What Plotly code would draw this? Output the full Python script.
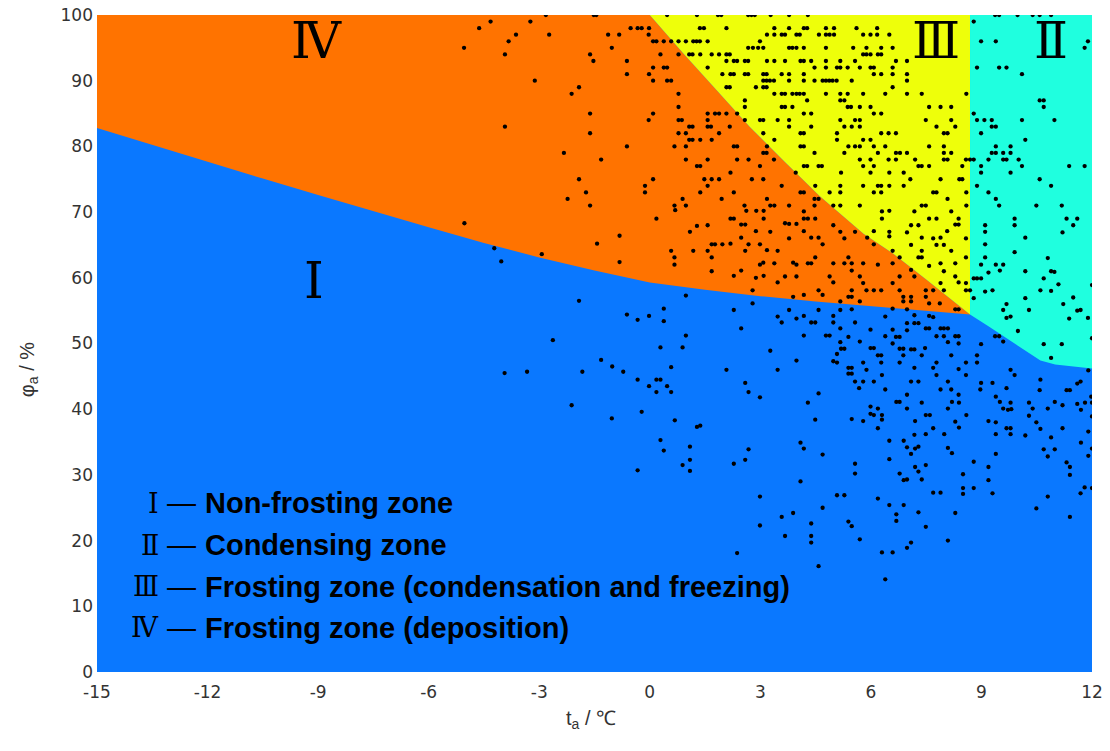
import plotly.graph_objects as go

# ---------------- zone boundaries (t_a in degC, phi_a in %) ----------------
b14_x = [-15, -13.5, -12, -10.5, -9, -7.5, -6, -4.5, -3, -1.5, 0, 1.5, 3, 4.5, 6, 7.5, 8.69]   # zone I / IV
b14_y = [82.8, 80.2, 77.7, 75.1, 72.6, 70.1, 67.7, 65.3, 63.1, 61.1, 59.3, 58.2, 57.2, 56.4, 55.7, 55.0, 54.4]
b34_x = [0, 0.9, 1.81, 2.71, 3.62, 4.6, 5.8, 6.6, 7.51, 8.69]   # zone III / IV
b34_y = [100, 94.2, 88.6, 83.0, 77.9, 72.5, 66.7, 63.7, 59.7, 54.4]
b12_x = [8.69, 9.2, 9.7, 10.2, 10.6, 11.0, 11.5, 12]             # zone I / II
b12_y = [54.4, 52.6, 50.7, 48.8, 47.4, 46.8, 46.5, 46.2]
x_split = 8.69                                                   # zone II / III

x_ticks = [-15, -12, -9, -6, -3, 0, 3, 6, 9, 12]
x_ticktext = ["-15", "-12", "-9", "-6", "-3", "0", "3", "6", "9", "12"]
y_ticks = [0, 10, 20, 30, 40, 50, 60, 70, 80, 90, 100]

# ---------------- observed points ----------------
pts_upper_left = [(-4.32,99),(-4.63,98),(-3.24,99),(-2.82,100),(-1.52,100),(-1.45,100),(-3.63,97),(-3.83,96),
    (-2.73,97),(-5.04,95),(-3.93,94),(-1.13,97),(-0.83,97),(-0.52,98),(-0.33,98),(-0.22,98),(-0.02,98),(-0.03,97),
    (-1.03,95),(-1.62,94),(-1.53,93),(-0.62,93),(-0.02,91),(-0.62,91),(-3.12,90),(-1.92,89),(-2.12,88),(-1.62,85),
    (-0.03,84),(-3.93,83),(-1.62,82),(-0.62,80),(-2.33,79),(-1.32,78),(-1.92,75),(-0.13,74),(-0.13,73),(-1.73,73),
    (-2.23,72),(-1.62,71)]

rows_upper_mid = {
    100: [0.47,1.28,1.85,1.94,2.67,2.76,2.85,3.28,3.78,4.29],
    98: [1.36,1.47,2.08,3.38,3.78,4.18,4.27,4.78,5.0,5.61],
    97: [3.18,3.38,3.58,3.67,3.98,4.07,4.59,4.78,4.88,5.0],
    96: [0.09,0.18,0.38,0.58,0.78,0.98,1.18,1.27,1.36,1.57,2.99],
    95: [2.67,2.8,2.94,3.08,3.78,3.87,3.98,4.18,4.78,5.52],
    94: [0.29,0.78,1.07,1.16,1.37,1.68,1.88,2.08,2.17],
    93: [2.08,2.28,2.37,2.58,2.67,3.18,3.38,3.67,4.09,4.18,4.38,4.78,5.17,5.57],
    92: [0.09,0.38,0.47,1.57,4.47,4.78,5.08,5.17,5.37],
    91: [1.97,2.19,2.28,2.58,2.67,3.08,3.17,3.58,3.78,4.18],
    90: [0.09,0.47,0.58,3.08,3.17,3.26,3.37,3.78,4.18,4.47,4.69,4.78,4.87,4.96,5.07,5.48],
    89: [2.08,2.17,2.88,3.08,3.17],
    88: [0.78,3.38,3.58,3.67,3.87,3.98,4.07,4.18,4.78,5.17,5.37],
    87: [2.58,4.27,5.17,5.28],
    86: [0.78,2.58,3.58,3.67,3.87,5.37,5.46],
    85: [0.09,1.57,1.77,1.88,2.08,2.37,4.18,4.38],
    84: [0.78,0.87,1.57,2.58,2.99,3.08,3.47,3.78,5.17,5.57],
    83: [1.07,1.16,1.57,1.66,2.17,3.78,4.38,5.28,5.48],
    82: [0.78,0.98,1.88,3.08,4.09,4.18,5.08],
    81: [1.07,1.16,1.37,1.68,3.38,5.08],
    80: [0.67,0.98,2.28,2.37,3.18,4.09,4.18,5.39,5.57],
    79: [3.08,3.17,4.47,5.28],
    78: [0.98,1.57,2.37,2.68,3.37],
    77: [1.28,1.37,2.99,4.18,4.27,4.58,4.67],
    76: [2.19,3.96,5.19],
    75: [0.09,1.48,1.68,1.88,2.77,3.08],
    74: [1.57,3.58,4.49,5.17],
    73: [1.37,2.28,4.09,4.18,4.88,5.17],
    72: [0.89,1.95,3.18,4.47,4.58],
    71: [0.67,0.98,2.57,3.27,3.38,3.78,4.47,4.98,5.17],
}

pts_upper_right = [(9.37,100),(9.48,100),(9.98,100),(10.39,100),(10.58,100),(10.89,100),(8.79,99),
    (6.17,98),(5.79,97),(5.99,97),(6.17,97),(6.50,97),(5.88,95),(6.28,95),(6.59,95),(5.79,94),(5.88,94),(5.99,94),
    (6.19,94),(6.28,94),(6.68,93),(6.98,93),(5.70,92),(5.99,92),(6.08,92),(6.59,92),(6.08,91),(6.28,91),(6.59,91),
    (6.98,91),(6.98,90),(6.59,89),(5.79,88),(6.39,88),(6.98,88),(7.38,88),(8.59,88),(5.70,86),(5.99,86),(7.58,86),
    (7.89,86),(8.18,86),(6.08,85),(6.28,85),(5.70,84),(7.49,84),(8.18,84),(5.70,83),(7.78,83),(8.29,83),(6.28,82),
    (6.48,82),(6.68,82),(7.98,82),(8.08,82),(5.79,81),(5.99,81),(5.70,80),(6.08,80),(6.39,80),(7.58,80),(7.98,80),
    (6.19,79),(6.68,79),(6.79,79),(6.98,79),(7.98,79),(8.18,79),(5.70,78),(5.99,78),(6.48,78),(6.68,78),(7.20,78),
    (7.98,78),(8.08,78),(8.58,78),(5.79,77),(6.08,77),(7.29,77),(7.38,77),(7.58,77),(8.48,77),(5.99,76),(6.50,76),
    (6.89,76),(7.07,75),(7.89,75),(8.40,75),(8.48,75),(6.19,74),(6.28,74),(6.50,74),(5.79,74),(6.89,74),(6.08,73),
    (6.28,73),(7.69,73),(7.78,73),(8.59,73),(8.08,72),(5.70,71),(7.38,71),(7.49,71),(8.59,71),
    (8.99,96),(9.39,96),(11.89,96),(11.80,95),(8.88,92),(9.48,92),(9.68,92),(10.10,91),(10.58,87),(10.69,87),
    (10.69,86),(8.79,85),(8.88,84),(9.08,84),(9.28,84),(10.10,84),(10.98,84),(9.28,83),(9.39,83),(8.99,82),
    (10.19,81),(9.39,80),(9.79,80),(9.28,79),(9.39,79),(9.59,79),(9.79,79),(8.69,78),(8.79,78),(9.19,78),(9.59,78),
    (9.68,78),(10.01,78),(8.99,77),(10.10,77),(11.38,77),(11.80,77),(8.99,76),(9.79,76),(10.58,75),(8.88,74),
    (10.89,74),(9.19,73),(9.39,72),(9.48,71),(10.49,71),(11.18,71)]

pts_mid_left = [(-5.03,68.3),(-0.82,66.4),(-1.43,65.2),(-2.93,63.6),(-0.82,62.4),(-4.22,64.5),(-4.03,62.5),
    (-1.92,56.5),(-0.62,54.4),(-0.33,53.6),(-0.02,54.2),(-2.63,50.5),(-1.32,47.5),(-1.02,46.5),(-0.72,45.7),
    (-3.94,45.5),(-3.33,45.7),(-1.83,45.7),(-0.33,44.5),(-0.02,43.5)]

pts_mid_center = [(0.18,69.0),(0.69,70.3),(2.62,70.2),(2.89,70.2),(3.09,70.2),(4.18,70.1),(2.19,69.0),(2.28,69.0),
    (3.09,69.0),(4.18,69.0),(4.29,69.0),(4.49,69.0),(1.57,68.0),(1.28,67.9),(2.48,68.1),(2.59,68.1),(3.67,68.3),
    (3.78,68.2),(3.98,68.2),(4.98,68.0),(1.09,67.0),(2.88,67.1),(3.27,67.0),(4.18,67.1),(5.17,67.0),(5.57,67.0),
    (2.48,66.1),(3.78,66.0),(4.38,66.1),(4.58,66.1),(5.28,66.0),(5.90,66.1),(1.68,65.1),(1.77,65.1),(1.97,65.1),
    (2.19,65.2),(2.68,65.1),(2.99,65.1),(4.69,65.1),(0.58,64.1),(1.18,64.1),(1.57,64.1),(2.59,64.1),(3.18,64.2),
    (3.47,64.1),(0.67,63.1),(1.68,63.1),(4.49,63.1),(5.39,63.1),(2.99,62.0),(3.08,62.3),(3.38,62.2),(3.89,62.3),
    (3.98,62.0),(4.29,62.2),(4.38,62.2),(4.98,62.2),(5.28,62.2),(5.48,62.2),(0.67,62.0),(1.68,61.0),(2.48,61.1),
    (5.48,61.1),(2.28,60.3),(2.88,60.0),(3.09,60.3),(3.67,60.2),(3.98,60.2),(4.88,60.2),(3.47,59.3),(4.98,59.3),
    (2.79,58.1),(4.58,58.1),(5.48,58.1),(4.18,57.4),(4.69,57.4),(3.89,57.1),(5.39,57.1),(5.48,57.1),(0.98,57.3),
    (5.17,56.4),(2.79,56.1),(0.38,55.3),(2.28,55.1),(3.78,55.1),(4.58,55.1),(5.17,55.1),(5.48,55.2),(3.47,54.1),
    (3.98,53.8),(4.18,54.2),(4.98,54.2),(0.38,53.4),(3.58,53.2),(4.38,53.2),(4.49,53.2),(4.98,53.2),(5.57,53.2),
    (2.48,52.3),(5.17,52.3),(0.98,51.2),(4.18,51.2),(4.78,51.2),(4.88,51.2),(5.39,51.0),(5.17,50.2),(0.29,49.4),
    (0.89,49.4),(5.19,49.2),(5.28,49.2),(3.27,48.9),(5.08,48.4),(3.98,47.4),(4.98,47.3),(5.08,47.1),(5.39,46.3),
    (5.48,46.3),(0.58,46.4),(2.08,46.0),(3.47,46.0),(5.39,45.4),(5.48,45.4),(0.18,44.5),(0.29,44.5),(5.57,44.2),
    (2.59,44.0),(0.47,43.5),(0.18,42.6),(0.58,42.6),(2.68,42.6),(5.68,43.2),(4.58,42.4),(2.99,41.8)]

pts_mid_right = [(6.30,70.1),(6.50,70.2),(7.18,70.1),(8.18,70.1),(6.30,69.0),(7.58,69.0),(7.78,69.0),(8.38,69.0),
    (7.09,68.0),(7.29,68.0),(8.29,68.1),(8.38,68.1),(6.08,67.1),(6.50,67.0),(6.50,66.3),(6.98,66.9),(8.07,67.1),
    (7.38,66.1),(7.69,66.0),(7.89,66.1),(8.58,66.0),(7.09,65.0),(7.78,65.0),(7.98,65.0),(6.59,64.1),(7.38,64.1),
    (8.18,64.1),(6.78,63.1),(7.29,63.1),(7.38,63.1),(8.58,63.1),(7.89,62.2),(7.58,61.8),(8.29,62.2),(7.09,61.2),
    (7.98,61.0),(8.29,60.2),(7.89,59.2),(8.38,59.3),(8.58,59.2),(8.58,58.1),(8.69,58.1),(7.98,58.1),(7.69,58.1),
    (7.87,56.1),(6.08,65.1),(5.79,62.2),(6.19,62.0),(6.59,62.2),(6.78,60.2),(7.18,60.2),(5.70,60.2),(5.79,59.2),
    (6.59,59.2),(5.88,58.1),(6.08,58.1),(6.28,58.1),(6.78,58.1),(7.49,58.1),(6.88,57.1),(7.09,57.1),(6.88,56.4),
    (7.09,56.4),(7.49,57.1),(7.58,56.1),(5.70,56.4),(6.98,55.2),(8.29,55.2),(8.38,55.2),(6.59,55.3),
    (9.10,68.0),(9.90,69.0),(9.90,68.0),(11.31,69.0),(11.60,69.0),(11.49,68.0),(11.20,66.9),(9.10,67.0),
    (10.19,66.1),(9.10,65.1),(9.90,63.9),(9.10,63.1),(10.80,63.0),(8.99,62.0),(9.39,62.0),(9.59,62.0),(9.50,61.1),
    (9.19,60.8),(10.19,61.0),(10.89,61.0),(10.98,60.9),(8.79,59.9),(8.88,59.9),(8.99,59.9),(10.69,59.9),
    (11.09,59.0),(12.0,58.9),(9.10,57.9),(9.30,58.1),(10.60,58.1),(10.89,58.0),(8.79,56.9),(10.19,56.9),
    (11.49,57.0),(9.68,56.0),(11.22,56.0),(9.59,55.1),(10.29,55.1),(11.60,55.0),(11.69,55.1),(9.68,53.9),
    (9.79,54.1),(11.38,53.8),(11.89,53.9),(9.99,51.9),(12.0,50.8),(10.69,49.9),(11.18,49.9),(10.89,47.8),
    (6.39,54.1),(7.18,54.3),(7.58,54.2),(7.69,54.0),(6.98,53.1),(7.18,53.1),(7.29,53.1),(7.49,52.3),(7.58,52.3),
    (7.89,52.3),(7.98,52.3),(8.09,52.3),(6.59,52.1),(6.98,52.0),(7.78,51.1),(7.98,51.1),(8.29,51.1),(8.38,51.1),
    (6.39,51.1),(6.68,51.0),(6.78,51.0),(5.99,52.1),(5.70,50.3),(5.99,49.3),(6.08,49.3),(6.59,50.0),(6.78,49.2),
    (6.88,49.2),(7.09,49.1),(7.18,49.1),(7.47,49.3),(8.09,50.2),(8.38,50.0),(8.99,49.9),(9.37,51.1),(9.48,51.1),
    (9.59,50.3),(6.28,48.2),(6.19,48.2),(6.88,48.2),(7.38,48.2),(8.18,48.2),(8.88,48.2),(5.79,47.1),(6.28,47.1),
    (6.78,47.1),(7.78,47.1),(8.58,47.1),(8.88,47.1),(7.18,46.3),(7.69,46.3),(8.38,46.1),(5.88,46.0),(9.79,46.0),
    (6.30,45.2),(7.78,45.2),(8.58,45.2),(9.90,45.2),(5.79,44.2),(6.08,44.2),(7.09,44.2),(7.29,44.2),(8.09,44.2),
    (8.99,44.0),(9.30,44.0),(10.60,44.5),(11.60,43.9),(11.69,44.2),(11.90,45.9),(6.39,43.0),(7.89,43.0),
    (8.18,43.0),(8.97,43.0),(9.68,43.2),(10.58,42.9),(11.31,42.9),(11.40,42.9),(6.98,42.2),(8.38,42.2),
    (9.39,41.9),(11.98,41.9)]

pts_low_left = [(-2.12,40.6),(-1.03,38.6),(-0.22,39.6),(-0.33,30.7)]

pts_low_center = [(4.29,41.0),(0.68,38.3),(1.28,37.3),(1.37,37.5),(4.49,38.4),(5.48,38.5),(0.29,35.3),(0.38,33.7),
    (1.09,34.3),(4.09,34.9),(4.18,34.0),(4.69,33.1),(2.68,33.9),(2.59,32.3),(2.28,31.7),(1.09,32.3),(0.89,31.5),
    (1.09,30.6),(5.57,31.7),(5.57,30.2),(4.09,29.0),(2.99,26.7),(5.08,26.9),(5.28,26.9),(4.69,25.0),(3.58,23.6),
    (3.89,24.2),(2.99,22.3),(4.38,22.6),(5.39,22.9),(5.48,22.2),(3.67,20.7),(4.38,20.7),(4.38,19.7),(2.37,18.1),
    (4.58,16.1)]

pts_low_right = [(6.69,41.1),(6.78,41.1),(7.38,41.0),(8.20,41.1),(8.39,41.0),(9.50,41.1),(9.79,41.0),(10.29,41.0),
    (10.99,41.1),(11.20,40.6),(11.60,40.8),(11.81,41.0),(12.0,41.0),(5.99,40.4),(6.19,40.1),(6.98,40.1),(8.09,40.1),
    (9.59,40.1),(9.72,39.9),(9.81,40.0),(10.39,40.1),(10.80,40.1),(11.70,39.9),(5.99,39.3),(6.08,39.1),(6.30,39.1),
    (7.49,39.1),(7.60,39.1),(8.59,39.1),(10.29,39.0),(12.0,38.9),(5.79,38.2),(6.30,38.4),(7.20,38.2),(8.29,38.1),
    (9.19,38.2),(9.39,38.0),(10.49,38.0),(6.19,37.1),(7.69,37.1),(8.39,37.2),(9.68,37.1),(9.79,37.1),(10.60,37.0),
    (11.20,37.1),(7.18,36.1),(7.49,36.2),(7.99,36.2),(9.39,36.2),(9.79,36.2),(10.19,36.0),(11.90,36.6),(6.50,35.2),
    (6.89,35.2),(10.89,35.7),(11.70,34.9),(6.98,34.2),(7.20,34.0),(7.29,34.3),(8.09,34.1),(10.69,33.9),(10.99,33.9),
    (12.0,34.0),(7.09,33.2),(8.20,33.3),(9.39,33.2),(10.80,32.8),(11.90,32.9),(6.50,32.4),(8.79,32.0),(11.31,31.9),
    (7.20,31.2),(7.49,31.5),(9.19,31.2),(11.40,31.2),(6.78,30.2),(7.29,30.5),(8.50,30.1),(6.89,29.2),(6.98,29.3),
    (7.38,29.3),(9.19,29.2),(11.40,30.0),(8.50,28.0),(8.79,28.0),(8.50,27.1),(7.69,27.3),(7.89,27.3),(9.30,27.2),
    (11.80,28.1),(12.0,28.0),(11.69,27.2),(10.80,26.7),(6.19,26.4),(6.50,25.4),(6.89,25.4),(6.69,24.0),(6.69,23.0),
    (7.29,24.3),(8.29,24.2),(10.49,24.9),(11.40,23.6),(7.49,22.1),(5.70,20.2),(7.09,19.7),(6.98,18.9),(8.09,20.0),
    (6.30,18.2),(6.59,18.2),(6.39,14.1)]

pts = list(pts_upper_left)
for yv, xs in rows_upper_mid.items():
    pts += [(xv, yv) for xv in xs]
for grp in (pts_upper_right, pts_mid_left, pts_mid_center, pts_mid_right,
            pts_low_left, pts_low_center, pts_low_right):
    pts += grp
px = [p[0] for p in pts]
py = [p[1] for p in pts]

# ---------------- labels ----------------
zone_names = ["Ⅰ", "Ⅱ", "Ⅲ", "Ⅳ"]
zone_desc = ["Non-frosting zone", "Condensing zone",
             "Frosting zone (condensation and freezing)", "Frosting zone (deposition)"]
legend_y = [25.7, 19.3, 13.0, 6.7]
zone_label_pos = {"Ⅰ": (-9.1, 59.5), "Ⅱ": (10.9, 96.1), "Ⅲ": (7.78, 96.1), "Ⅳ": (-9.05, 96.1)}

C_BLUE = "#0A78FF"
C_ORANGE = "#FF7300"
C_YELLOW = "#EEFF0A"
C_CYAN = "#1FFFDF"

fig = go.Figure()

ox = b14_x + b34_x[::-1] + [-15]
oy = b14_y + b34_y[::-1] + [100]
fig.add_trace(go.Scatter(x=ox, y=oy, fill="toself", fillcolor=C_ORANGE, mode="lines",
                         line=dict(width=0, color=C_ORANGE), hoverinfo="skip", showlegend=False))
yx = b34_x + [x_split]
yy = b34_y + [100]
fig.add_trace(go.Scatter(x=yx, y=yy, fill="toself", fillcolor=C_YELLOW, mode="lines",
                         line=dict(width=0, color=C_YELLOW), hoverinfo="skip", showlegend=False))
cx = [x_split] + b12_x + [12, x_split]
cy = [100] + b12_y + [100, 100]
fig.add_trace(go.Scatter(x=cx, y=cy, fill="toself", fillcolor=C_CYAN, mode="lines",
                         line=dict(width=0, color=C_CYAN), hoverinfo="skip", showlegend=False))

fig.add_trace(go.Scatter(x=px, y=py, mode="markers",
                         marker=dict(size=4.3, color="black"), hoverinfo="skip", showlegend=False))

serif = "DejaVu Serif, Liberation Serif, serif"
for name, (zx, zy) in zone_label_pos.items():
    fig.add_annotation(x=zx, y=zy, text=name, showarrow=False,
                       font=dict(family=serif, size=50, color="black"))

for name, desc, yv in zip(zone_names, zone_desc, legend_y):
    fig.add_annotation(x=-13.25, y=yv, text=name, showarrow=False, xanchor="right",
                       font=dict(family=serif, size=27, color="black"))
    fig.add_annotation(x=-12.72, y=yv, text="—", showarrow=False, xanchor="center",
                       font=dict(family="Liberation Sans, sans-serif", size=29, color="black"))
    fig.add_annotation(x=-12.13, y=yv, text="<b>" + desc + "</b>", showarrow=False, xanchor="left",
                       font=dict(family="Liberation Sans, Arial, sans-serif", size=29, color="black"))

title_font = dict(family="Liberation Sans, Arial", size=20, color="#333333")
fig.add_annotation(xref="paper", yref="paper", x=0.4965, y=-0.072, text="t<sub>a</sub> / ℃",
                   showarrow=False, xanchor="center", yanchor="middle", font=title_font)
fig.add_annotation(xref="paper", yref="paper", x=-0.069, y=0.46, text="φ<sub>a</sub> / %",
                   showarrow=False, xanchor="center", yanchor="middle", textangle=-90, font=title_font)

tick_font = dict(family="DejaVu Sans, Liberation Sans", size=17, color="#333333")
fig.update_layout(
    width=1110, height=751,
    margin=dict(l=97, r=18, t=15, b=79, autoexpand=False),
    paper_bgcolor="white", plot_bgcolor=C_BLUE,
    xaxis=dict(range=[-15, 12], tickvals=x_ticks, ticktext=x_ticktext, showgrid=False, zeroline=False,
               showline=False, ticks="", tickfont=tick_font, ticklabelstandoff=8, automargin=False),
    yaxis=dict(range=[0, 100], tickvals=y_ticks, showgrid=False, zeroline=False,
               showline=False, ticks="", tickfont=tick_font, ticklabelstandoff=3, automargin=False),
)

fig.write_html("out.html")
